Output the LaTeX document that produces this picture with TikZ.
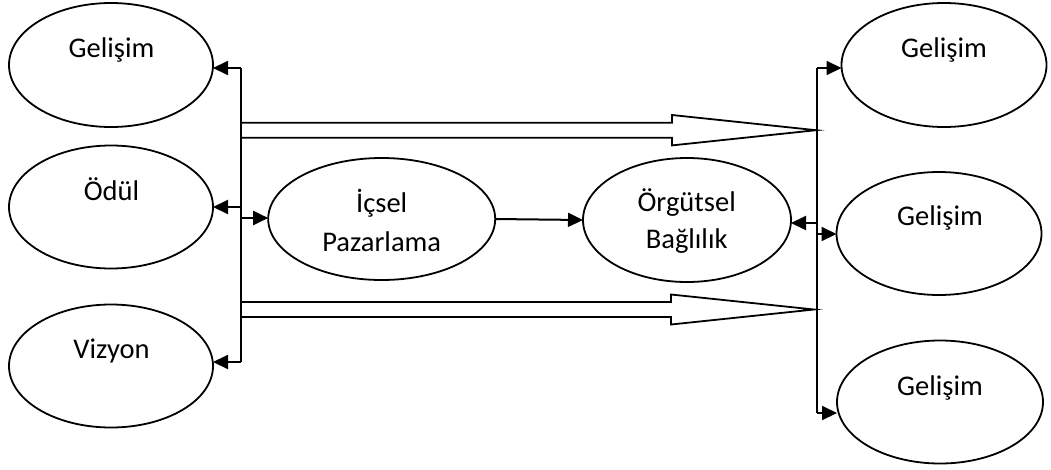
\documentclass[tikz,border=0pt]{standalone}
\usepackage{fontspec}
\setmainfont{Carlito}
\usetikzlibrary{shapes.geometric,arrows.meta}

\tikzset{
  oval/.style={draw, ellipse, line width=1.8pt, inner sep=0pt, outer sep=0pt},
  word/.style={anchor=base, inner sep=0pt, font=\fontsize{28.5}{34}\selectfont},
  bus/.style={line width=2pt},
  link/.style={line width=2pt, -{Triangle[length=15pt,width=14pt]}},
  fat/.style={line width=1.8pt, line join=miter},
}

\begin{document}
\begin{tikzpicture}[x=1pt, y=-1pt]
\useasboundingbox (0,0) rectangle (1051,469);

% left column
\node[oval, minimum width=204pt, minimum height=124pt] (gl) at (111,65) {};
\node[oval, minimum width=204pt, minimum height=123pt] (od) at (111,207) {};
\node[oval, minimum width=204pt, minimum height=123pt] (vz) at (111,366) {};
\node[word] (tgl) at (111.5,57) {Gelişim};
\node[word] (tod) at (111.5,200) {Ödül};
\node[word] (tvz) at (111.5,358) {Vizyon};

% centre
\node[oval, minimum width=227pt, minimum height=122pt] (ic) at (381.7,219) {};
\node[oval, minimum width=208pt, minimum height=124pt] (og) at (687,220) {};
\node[word] (tic1) at (381.7,212.5) {İçsel};
\node[word] (tic2) at (381.7,251) {Pazarlama};
\node[word] (tog1) at (686.7,211.5) {Örgütsel};
\node[word] (tog2) at (686.7,248) {Bağlılık};

% right column
\node[oval, minimum width=205pt, minimum height=124pt] (gr1) at (944,65) {};
\node[oval, minimum width=205pt, minimum height=123pt] (gr2) at (939,233.5) {};
\node[oval, minimum width=206pt, minimum height=123pt] (gr3) at (940,402) {};
\node[word] (tgr1) at (944,57) {Gelişim};
\node[word] (tgr2) at (940,225) {Gelişim};
\node[word] (tgr3) at (940,395) {Gelişim};

% bus points
\coordinate (lb1) at (241,68);
\coordinate (lb2) at (241,207);
\coordinate (lb3) at (241,218);
\coordinate (lb4) at (241,362);
\coordinate (rb1) at (817,68);
\coordinate (rb2) at (817,223);
\coordinate (rb3) at (817,234);
\coordinate (rb4) at (817,413);
\coordinate (ha) at (241,130.2);
\coordinate (hb) at (241,309.5);
\coordinate (ta) at (816,130.2);
\coordinate (tb) at (814,309.5);

% vertical buses
\draw[bus] (lb1) -- (lb4);
\draw[bus] (rb1) -- (rb4);

% arrows from the left bus
\draw[link] (lb1) -- (lb1 -| gl.east);
\draw[link] (lb2) -- (lb2 -| od.east);
\draw[link] (lb4) -- (lb4 -| vz.east);
\draw[link] (lb3) -- (lb3 -| ic.west);

% centre link
\draw[link] (ic.east) -- (og.west);

% arrows from the right bus
\draw[link] (rb1) -- (rb1 -| gr1.west);
\draw[link] (rb2) -- (rb2 -| og.east);
\draw[link] (rb3) -- (rb3 -| gr2.west);
\draw[link] (rb4) -- (rb4 -| gr3.west);

% hollow block arrows between the buses
\draw[fat] ([yshift=-7.5pt]ha) -- ([yshift=-7.5pt]ha -| 672,0) -- ([yshift=-15.2pt]ha -| 672,0)
  -- (ta) -- ([yshift=15.2pt]ha -| 672,0) -- ([yshift=7.5pt]ha -| 672,0) -- ([yshift=7.5pt]ha);
\draw[fat] ([yshift=-7.5pt]hb) -- ([yshift=-7.5pt]hb -| 671,0) -- ([yshift=-15pt]hb -| 671,0)
  -- (tb) -- ([yshift=15pt]hb -| 671,0) -- ([yshift=7.5pt]hb -| 671,0) -- ([yshift=7.5pt]hb);
\end{tikzpicture}
\end{document}
